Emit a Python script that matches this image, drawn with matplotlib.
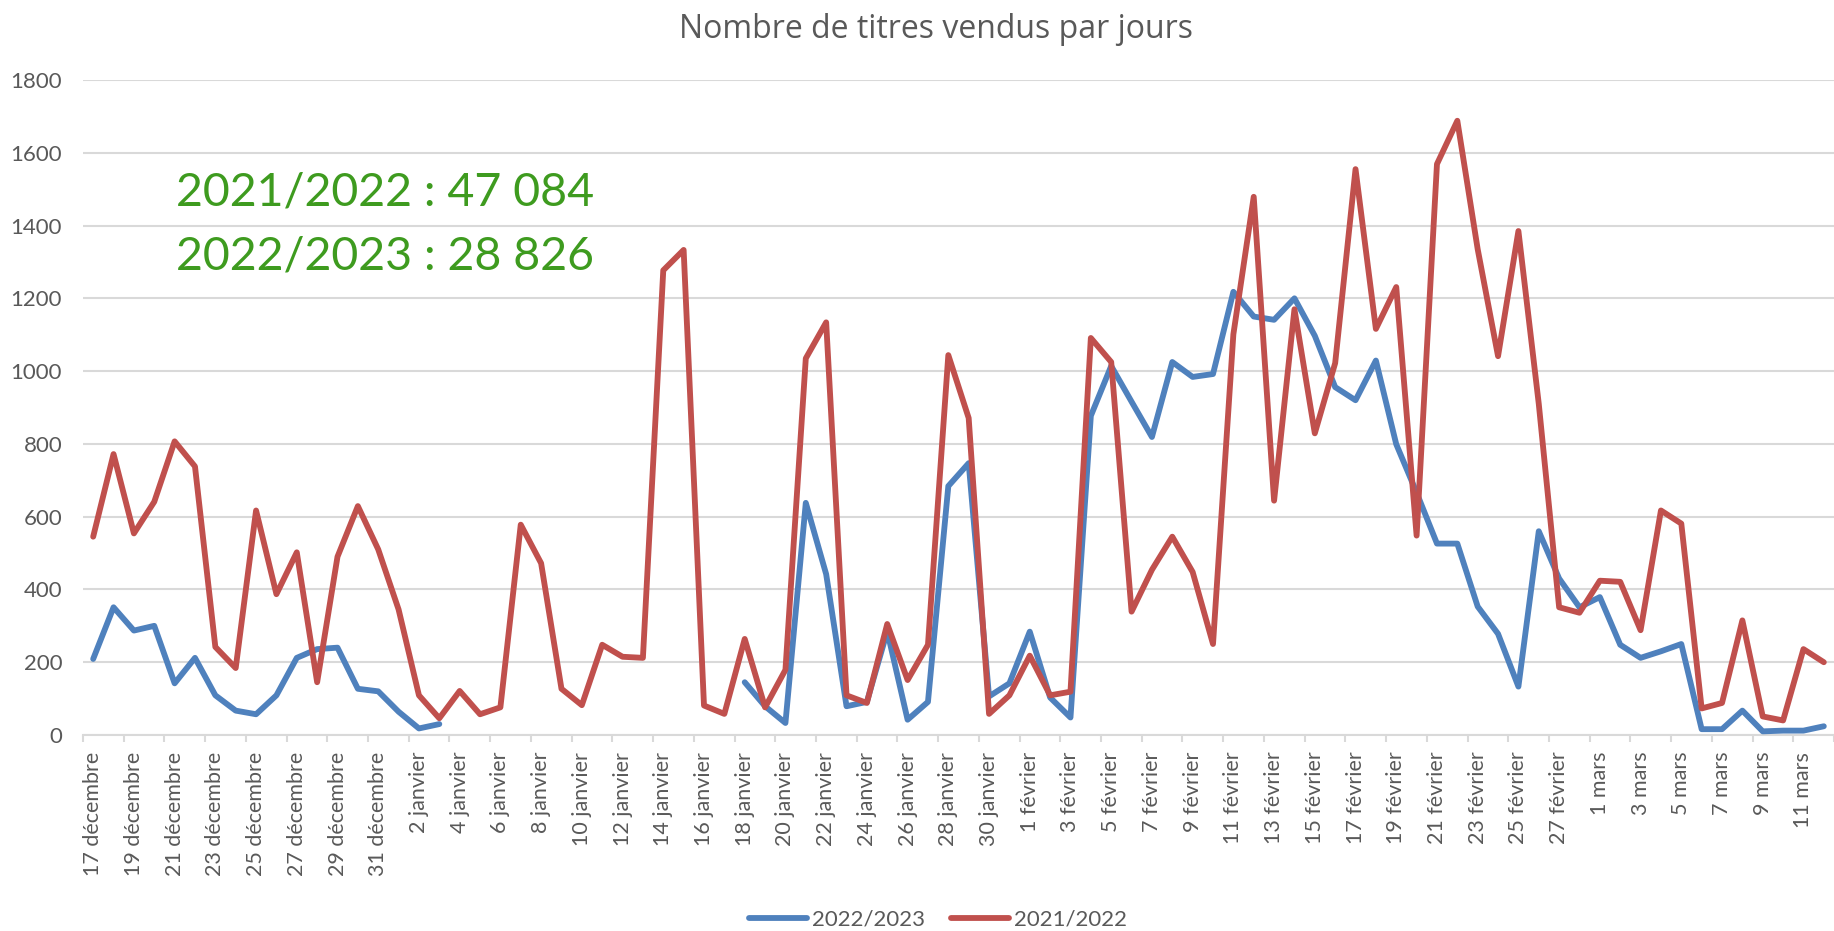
import numpy as np
import matplotlib
matplotlib.use("Agg")
import matplotlib.pyplot as plt

plt.rcParams['font.family'] = ['Lato', 'DejaVu Sans']

# day labels, 17 décembre -> 12 mars
days = ([f"{d} décembre" for d in range(17, 32)]
        + [f"{d} janvier" for d in range(1, 32)]
        + [f"{d} février" for d in range(1, 29)]
        + [f"{d} mars" for d in range(1, 13)])

# 2021/2022 season (red)
sales_2122 = [545, 772, 554, 641, 807, 738, 242, 184, 617, 387, 502, 145, 490, 629, 510,
              345, 109, 46, 121, 57, 76, 578, 472, 127, 82, 248, 215, 212, 1277, 1333,
              81, 58, 264, 76, 179, 1035, 1134, 109, 88, 305, 151, 248, 1044, 871, 58,
              109, 218, 109, 119, 1091, 1025, 339, 454, 545, 448, 250, 1101, 1479, 644, 1170,
              829, 1022, 1555, 1116, 1231, 548, 1569, 1688, 1335, 1041, 1385, 910, 351, 336,
              424, 421, 288, 617, 581, 73, 88, 315, 51, 40, 236, 200]

# 2022/2023 season (blue), no data from 4 to 17 janvier
nan = np.nan
sales_2223 = [209, 351, 287, 300, 142, 212, 109, 67, 57, 109, 212, 236, 240, 127, 120,
              64, 18, 30,
              nan, nan, nan, nan, nan, nan, nan, nan, nan, nan, nan, nan, nan, nan,
              145, 79, 33, 638, 442, 79, 91, 285, 42, 91, 684, 747, 106,
              142, 284, 103, 48, 877, 1014, 916, 819, 1025, 984, 992, 1218, 1150, 1141, 1200,
              1097, 956, 920, 1029, 799, 666, 526, 526, 353, 278, 133, 560, 430, 351,
              379, 248, 212, 230, 250, 16, 16, 67, 10, 12, 12, 24]

totals = ["2021/2022 : 47 084", "2022/2023 : 28 826"]

grey = '#595959'
grid_col = '#D9D9D9'
W, H = 1834, 931

fig = plt.figure(figsize=(W / 100, H / 100), dpi=100)
ax = fig.add_axes([83 / W, 1 - 735 / H, 1 - 83 / W, (735 - 80) / H])

x = np.arange(len(days))
ax.plot(x, sales_2223, color='#4F81BD', lw=4.2, label='2022/2023',
        solid_capstyle='round', solid_joinstyle='round', zorder=3)
ax.plot(x, sales_2122, color='#C0504D', lw=4.2, label='2021/2022',
        solid_capstyle='round', solid_joinstyle='round', zorder=4)

ax.set_ylim(0, 1800)
ax.set_xlim(-0.5, 85.0)
ax.set_yticks(np.arange(0, 1801, 200))
ax.yaxis.grid(True, color=grid_col, lw=1.5)
ax.set_axisbelow(True)

ax.set_xticks(x[::2])
ax.set_xticklabels(days[::2], rotation=90, va='top', ha='center')
ax.set_xticks(np.arange(-0.5, len(days), 2), minor=True)
ax.tick_params(axis='x', which='major', length=0, pad=12, labelsize=15.5, labelcolor=grey)
ax.tick_params(axis='x', which='minor', length=5, width=1.5, color=grid_col)
ax.tick_params(axis='y', length=0, pad=15, labelsize=16, labelcolor=grey)

for s in ['top', 'right', 'left']:
    ax.spines[s].set_visible(False)
ax.spines['bottom'].set_color(grid_col)
ax.spines['bottom'].set_linewidth(1.5)

fig.text(936 / W, 1 - 38 / H, "Nombre de titres vendus par jours",
         ha='center', va='baseline', fontsize=23, color=grey,
         family=['Open Sans', 'DejaVu Sans'])

fig.text(176 / W, 1 - 205 / H, totals[0], ha='left', va='baseline',
         fontsize=33.5, color='#3E9B1F')
fig.text(176 / W, 1 - 270 / H, totals[1], ha='left', va='baseline',
         fontsize=33.5, color='#3E9B1F')

fig.legend(loc='center', bbox_to_anchor=(938 / W, 1 - 920 / H), ncol=2,
           frameon=False, fontsize=16, labelcolor=grey, handlelength=2.6,
           handletextpad=0.2, columnspacing=1.2)

fig.savefig('out.png', dpi=100)
